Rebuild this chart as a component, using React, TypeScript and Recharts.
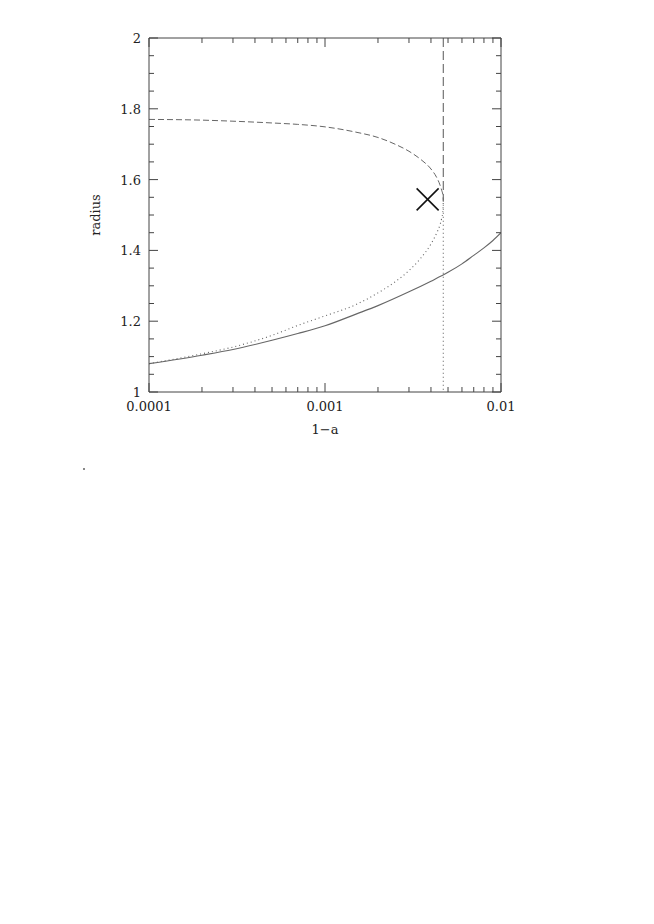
import React from "react";
import {
  ComposedChart,
  Line,
  Scatter,
  XAxis,
  YAxis,
  Label,
} from "recharts";

// solid curve
const solidX = [0.0001, 0.0002, 0.0003, 0.0005, 0.0007, 0.001, 0.0015, 0.002, 0.003, 0.004, 0.005, 0.006, 0.007, 0.008, 0.009, 0.01];
const solidY = [1.08, 1.104, 1.12, 1.146, 1.165, 1.187, 1.22, 1.244, 1.283, 1.313, 1.338, 1.362, 1.386, 1.407, 1.428, 1.45];

// dotted lower branch
const dottedX = [0.0001, 0.0002, 0.0003, 0.0005, 0.0007, 0.001, 0.0015, 0.002, 0.0025, 0.003, 0.0035, 0.004, 0.0043, 0.0045, 0.0046, 0.00468, 0.0047];
const dottedY = [1.08, 1.108, 1.127, 1.16, 1.188, 1.215, 1.247, 1.28, 1.311, 1.343, 1.378, 1.418, 1.448, 1.472, 1.49, 1.515, 1.54];

// dashed upper branch
const dashedX = [0.0001, 0.0002, 0.0003, 0.0005, 0.0007, 0.001, 0.0015, 0.002, 0.0025, 0.003, 0.0035, 0.004, 0.0043, 0.0045, 0.0046, 0.00468, 0.0047];
const dashedY = [1.77, 1.768, 1.765, 1.76, 1.756, 1.749, 1.734, 1.719, 1.7, 1.68, 1.657, 1.63, 1.607, 1.585, 1.57, 1.555, 1.54];

// vertical asymptote
const vertX = 0.0047;
const vertSplit = 1.54;

// cross marker
const markX = [0.00383];
const markY = [1.544];

const xTicks = [
  0.0001, 0.0002, 0.0003, 0.0004, 0.0005, 0.0006, 0.0007, 0.0008, 0.0009,
  0.001, 0.002, 0.003, 0.004, 0.005, 0.006, 0.007, 0.008, 0.009, 0.01,
];
const xMajor = [0.0001, 0.001, 0.01];
const xLabels = ["0.0001", "0.001", "0.01"];

const yTicks = [
  1, 1.05, 1.1, 1.15, 1.2, 1.25, 1.3, 1.35, 1.4, 1.45, 1.5, 1.55, 1.6,
  1.65, 1.7, 1.75, 1.8, 1.85, 1.9, 1.95, 2,
];
const yMajor = [1, 1.2, 1.4, 1.6, 1.8, 2];
const yLabels = ["1", "1.2", "1.4", "1.6", "1.8", "2"];

const zip = (xs: number[], ys: number[]) => xs.map((x, i) => ({ x, y: ys[i] }));

const font = "'DejaVu Serif', serif";
const axisColor = "#444";
const curveColor = "#666";
const MAJ = 9;
const MIN = 5;

const majorIndex = (list: number[], v: number) =>
  list.findIndex((m) => Math.abs(m - v) < 1e-9);

function BottomTick(props: any) {
  const { x, y, payload } = props;
  const i = majorIndex(xMajor, payload.value);
  const len = i >= 0 ? MAJ : MIN;
  return (
    <g>
      <line x1={x} x2={x} y1={y} y2={y - len} stroke={axisColor} />
      {i >= 0 && (
        <text x={x} y={y + 19} textAnchor="middle" fontFamily={font} fontSize={13} fill="#222">
          {xLabels[i]}
        </text>
      )}
    </g>
  );
}

function TopTick(props: any) {
  const { x, y, payload } = props;
  const len = majorIndex(xMajor, payload.value) >= 0 ? MAJ : MIN;
  return <line x1={x} x2={x} y1={y} y2={y + len} stroke={axisColor} />;
}

function LeftTick(props: any) {
  const { x, y, payload } = props;
  const i = majorIndex(yMajor, payload.value);
  const len = i >= 0 ? MAJ : MIN;
  return (
    <g>
      <line x1={x} x2={x + len} y1={y} y2={y} stroke={axisColor} />
      {i >= 0 && (
        <text x={x - 8} y={y + 5} textAnchor="end" fontFamily={font} fontSize={13} fill="#222">
          {yLabels[i]}
        </text>
      )}
    </g>
  );
}

function RightTick(props: any) {
  const { x, y, payload } = props;
  const len = majorIndex(yMajor, payload.value) >= 0 ? MAJ : MIN;
  return <line x1={x} x2={x - len} y1={y} y2={y} stroke={axisColor} />;
}

function Cross(props: any) {
  const { cx, cy } = props;
  const h = 11;
  return (
    <g stroke="#111" strokeWidth={1.6}>
      <line x1={cx - h} y1={cy - h} x2={cx + h} y2={cy + h} />
      <line x1={cx - h} y1={cy + h} x2={cx + h} y2={cy - h} />
    </g>
  );
}

export default function App() {
  return (
    <div style={{ position: "relative", width: 560, height: 470 }}>
      <ComposedChart
        width={560}
        height={470}
        margin={{ top: 29, right: 66, left: 0, bottom: 46 }}
      >
        <XAxis
          dataKey="x"
          type="number"
          scale="log"
          domain={[0.0001, 0.01]}
          allowDataOverflow
          ticks={xTicks}
          interval={0}
          height={40}
          tickSize={0}
          tickMargin={0}
          tickLine={false}
          axisLine={{ stroke: axisColor }}
          tick={<BottomTick />}
        >
          <Label
            content={(p: any) => (
              <text
                x={p.viewBox.x + p.viewBox.width / 2}
                y={p.viewBox.y + 42}
                textAnchor="middle"
                fontFamily={font}
                fontSize={13}
                fill="#222"
              >
                1−a
              </text>
            )}
          />
        </XAxis>
        <XAxis
          xAxisId="top"
          orientation="top"
          dataKey="x"
          type="number"
          scale="log"
          domain={[0.0001, 0.01]}
          allowDataOverflow
          ticks={xTicks}
          interval={0}
          height={1}
          tickSize={0}
          tickMargin={0}
          tickLine={false}
          axisLine={{ stroke: axisColor }}
          tick={<TopTick />}
        />
        <YAxis
          type="number"
          domain={[1, 2]}
          allowDataOverflow
          ticks={yTicks}
          interval={0}
          width={141}
          tickSize={0}
          tickMargin={0}
          tickLine={false}
          axisLine={{ stroke: axisColor }}
          tick={<LeftTick />}
        >
          <Label
            content={(p: any) => {
              const cx = p.viewBox.x + p.viewBox.width - 54;
              const cy = p.viewBox.y + p.viewBox.height / 2;
              return (
                <text
                  x={cx}
                  y={cy}
                  textAnchor="middle"
                  dominantBaseline="central"
                  transform={`rotate(-90, ${cx}, ${cy})`}
                  fontFamily={font}
                  fontSize={13}
                  fill="#222"
                >
                  radius
                </text>
              );
            }}
          />
        </YAxis>
        <YAxis
          yAxisId="right"
          orientation="right"
          type="number"
          domain={[1, 2]}
          allowDataOverflow
          ticks={yTicks}
          interval={0}
          width={1}
          tickSize={0}
          tickMargin={0}
          tickLine={false}
          axisLine={{ stroke: axisColor }}
          tick={<RightTick />}
        />
        <Line
          data={zip(solidX, solidY)}
          dataKey="y"
          type="monotone"
          stroke={curveColor}
          strokeWidth={1.1}
          dot={false}
          isAnimationActive={false}
        />
        <Line
          data={zip(dottedX, dottedY)}
          dataKey="y"
          type="monotone"
          stroke={curveColor}
          strokeWidth={1.1}
          strokeDasharray="1 3"
          dot={false}
          isAnimationActive={false}
        />
        <Line
          data={zip(dashedX, dashedY)}
          dataKey="y"
          type="monotone"
          stroke={curveColor}
          strokeWidth={1}
          strokeDasharray="6 3"
          dot={false}
          isAnimationActive={false}
        />
        <Line
          data={[{ x: vertX, y: 2 }, { x: vertX, y: vertSplit }]}
          dataKey="y"
          type="linear"
          stroke={curveColor}
          strokeWidth={1.1}
          strokeDasharray="9 4"
          dot={false}
          isAnimationActive={false}
        />
        <Line
          data={[{ x: vertX, y: vertSplit }, { x: vertX, y: 1 }]}
          dataKey="y"
          type="linear"
          stroke={curveColor}
          strokeWidth={1.1}
          strokeDasharray="1 3"
          dot={false}
          isAnimationActive={false}
        />
        <Scatter
          data={zip(markX, markY)}
          dataKey="y"
          shape={<Cross />}
          isAnimationActive={false}
        />
      </ComposedChart>
      <div
        style={{
          position: "absolute",
          left: 75,
          top: 460,
          width: 1.5,
          height: 1.5,
          background: "#888",
        }}
      />
    </div>
  );
}
